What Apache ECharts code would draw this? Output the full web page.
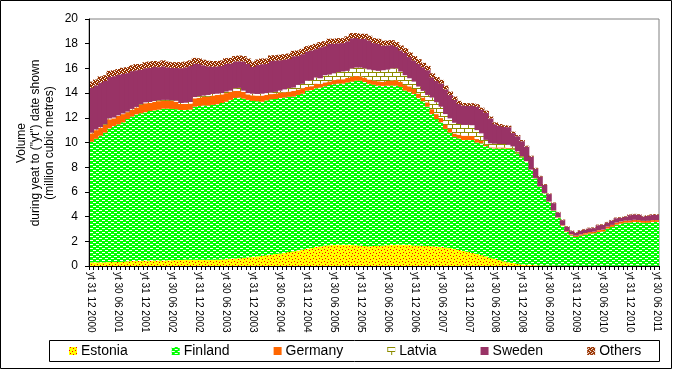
<!DOCTYPE html>
<html>
<head>
<meta charset="utf-8">
<script src="https://cdn.jsdelivr.net/npm/echarts@6/dist/echarts.min.js"></script>
<style>
html,body{margin:0;padding:0;background:#fff;}
#c{width:673px;height:371px;}
</style>
</head>
<body>
<div id="c"></div>
<script>
// ---- data (million cubic metres, year-to-date volumes, monthly Dec 2000 .. Jun 2011) ----
const seriesNames = ['Estonia','Finland','Germany','Latvia','Sweden','Others'];
const yTicks = [0,2,4,6,8,10,12,14,16,18,20];

const estonia = [
 .30,.30,.30,.30,.32,.33,.33,.35,.38,.40,.42,.43,.44,.44,.45,.45,.45,.46,.47,.48,.49,.50,.50,
 .50,.50,.50,.50,.50,.51,.53,
 .55,.58,.60,.63,.66,.70,.73,.78,.82,.88,.92,.98,1.02,1.08,1.14,1.20,1.25,1.33,1.38,1.45,1.54,
 1.60,1.65,1.68,1.70,1.72,1.73,1.72,1.70,1.68,1.65,1.62,1.60,1.62,1.64,1.66,1.68,1.70,1.72,1.73,1.72,1.70,1.67,1.65,1.63,1.62,
 1.60,1.58,1.55,1.50,1.45,1.38,1.30,1.22,1.15,1.05,.98,.88,.78,.66,.58,.48,.38,.30,.25,.18,.12,.10,.08,.07,.05,.05,
 .04,.04,.03,.03,.02,.02,.02,.02,.02,.02,.02,.02,.02,.02,.02,.02,.02,.02,.02,.02,.02,.02,.02,.02,.02
];
const finland = [
 9.76,10.00,10.25,10.50,10.83,11.00,11.14,11.28,11.52,11.70,11.86,11.93,12.01,12.11,12.15,12.21,12.29,12.28,12.25,12.22,12.14,12.13,12.16,
 12.40,12.45,12.50,
 12.49,12.55,12.59,12.67,
 12.75,12.87,13.00,13.01,12.89,12.75,12.64,12.57,12.48,12.52,12.58,12.54,12.58,12.56,12.56,12.52,12.60,12.63,12.82,12.80,12.85,
 12.85,12.90,12.97,13.02,13.05,13.04,13.13,13.23,13.32,13.35,13.28,13.15,13.05,12.96,12.92,12.92,12.92,12.88,12.77,12.48,12.40,12.26,11.96,11.71,11.28,
 10.70,10.32,10.08,9.60,9.35,9.07,9.03,8.98,9.05,9.15,9.02,9.05,8.93,8.89,8.94,9.04,9.14,9.20,9.20,8.94,8.68,8.34,7.69,7.02,6.36,5.82,
 5.15,4.42,3.87,3.22,2.74,2.47,2.33,2.43,2.52,2.60,2.63,2.74,2.78,3.01,3.15,3.33,3.42,3.50,
 3.50,3.55,3.53,3.48,3.48,3.55,3.55
];
const germany = [
 .68,.70,.65,.62,.73,.63,.68,.67,.55,.56,.55,.68,.73,.65,.70,.69,.63,.63,.64,.60,.49,.49,.49,
 .68,.67,.70,
 .71,.75,.75,.70,.70,.67,.58,.54,.55,.45,.45,.45,.50,.45,.42,.44,.45,.43,.42,.46,.44,.43,.30,.31,.38,
 .30,.32,.30,.33,.35,.35,.38,.40,.38,.36,.35,.35,.33,.36,.34,.38,.40,.45,.42,.45,.45,.40,.35,.30,.35,
 .40,.40,.35,.32,.30,.28,.30,.35,.35,.33,.28,.20,.10,.06,.08,.08,.08,.06,.05,.05,.04,.02,.02,.02,.02,.02,
 .03,.03,.04,.05,.06,.08,.10,.10,.12,.12,.12,.14,.14,.15,.15,.16,.16,.15,.15,.16,.16,.15,.15,.14,.14
];
const latvia = [
 .06,.05,.05,.06,.07,.06,.05,.05,.05,.06,.05,.06,.07,.08,.06,.07,.08,.08,.06,.08,.08,.10,.13,
 .10,.13,.10,
 .15,.13,.10,.10,.12,.08,.21,.24,.10,.10,.13,.13,.15,.15,.13,.14,.15,.23,.28,.27,.37,.36,.50,.49,.49,
 .45,.58,.55,.55,.58,.63,.57,.67,.69,.71,.75,.81,.85,.84,.93,.92,.98,.95,.83,.80,.65,.60,.57,.54,.60,
 .94,.96,.92,.88,.85,.87,.87,.87,.87,.87,.72,.61,.40,.32,.30,.28,.28,.25,.18,.12,.06,.04,.02,.02,.02,.02,
 .01,.01,.01,.01,.01,.01,.01,.01,.01,.01,.01,.01,.01,.01,.01,.01,.01,.01,.01,.01,.01,.01,.01,.01,.01
];
const sweden = [
 3.63,3.57,3.60,3.50,3.35,3.35,3.29,3.20,3.12,3.06,2.97,2.79,2.77,2.77,2.77,2.68,2.72,2.64,2.63,2.65,2.82,2.87,2.92,
 2.70,2.61,2.45,
 2.32,2.21,2.21,2.20,2.24,2.20,2.17,2.16,2.35,2.36,2.17,2.34,2.39,2.36,2.55,2.54,2.46,2.40,2.37,2.53,2.34,2.40,2.36,2.41,2.30,
 2.51,2.35,2.49,2.40,2.33,2.30,2.39,2.44,2.39,2.32,2.40,2.35,2.20,2.19,1.99,1.96,1.89,1.75,1.71,1.80,1.72,1.70,1.84,1.91,2.00,
 1.63,1.72,1.87,2.00,1.89,1.85,1.62,1.56,1.54,1.58,1.90,1.90,2.19,2.01,1.58,1.47,1.38,1.43,1.08,1.21,1.20,1.16,1.04,.75,.79,.66,
 .59,.59,.38,.40,.34,.24,.22,.29,.28,.30,.29,.39,.37,.33,.35,.35,.29,.30,.44,.43,.43,.35,.39,.42,.42
];
const others = [
 .50,.48,.50,.47,.50,.48,.46,.50,.48,.47,.50,.46,.48,.50,.47,.45,.48,.46,.45,.47,.48,.46,.45,.47,.46,.45,
 .45,.46,.44,.45,.47,.45,.44,.46,.45,.44,.43,.45,.46,.44,.45,.43,.44,.45,.43,.44,.45,.43,.44,.42,.43,
 .42,.40,.41,.40,.42,.40,.41,.42,.40,.41,.40,.39,.40,.41,.40,.39,.40,.38,.40,.39,.38,.37,.38,.36,.35,
 .33,.32,.30,.30,.28,.27,.25,.22,.22,.20,.20,.18,.18,.16,.15,.15,.14,.12,.12,.10,.10,.08,.08,.07,.06,.06,
 .05,.05,.05,.05,.05,.05,.05,.05,.05,.05,.05,.05,.05,.05,.05,.05,.05,.05,.05,.05,.05,.05,.05,.05,.05
];

// month-end category labels, Dec 2000 .. Jun 2011
const categories = [];
(function(){
  const lastDay = [31,28,31,30,31,30,31,31,30,31,30,31];
  let y = 2000, m = 11;
  for (let k = 0; k < estonia.length; k++) {
    let d = lastDay[m];
    if (m === 1 && (y % 4 === 0)) d = 29;
    const mm = String(m + 1).padStart(2, '0');
    categories.push('yt ' + d + ' ' + mm + ' ' + y);
    m++; if (m > 11) { m = 0; y++; }
  }
})();

// ---- patterns ----
function pattern(rows, bg, fg) {
  const h = rows.length, w = rows[0].length;
  const c = document.createElement('canvas');
  c.width = w; c.height = h;
  const ctx = c.getContext('2d');
  ctx.fillStyle = bg; ctx.fillRect(0, 0, w, h);
  ctx.fillStyle = fg;
  for (let y = 0; y < h; y++) for (let x = 0; x < w; x++) if (rows[y][x] === 'x') ctx.fillRect(x, y, 1, 1);
  return { image: c, repeat: 'repeat' };
}
const fills = [
  pattern(['.x....','....x.','......','x.....','...x..','......'], '#FFFF00', '#FF0000'),
  pattern(['xxx...','......','...xxx','......'], '#00FF00', '#FFFFFF'),
  '#FF6600',
  pattern(['xxxxxxxx','x.......','x.......','x.......','xxxxxxxx','....x...','....x...','....x...'], '#FFFFFF', '#8C8C00'),
  '#993366',
  pattern(['xxx.','x.xx','.xxx','xx.x'], '#FFFFFF', '#993300')
];
const values = [estonia, finland, germany, latvia, sweden, others];

// stacked [index, bottom, top] rows for each series
const running = new Array(estonia.length).fill(0);
const stacked = values.map(arr => arr.map((v, i) => {
  const lo = running[i]; running[i] = lo + v; return [i, lo, lo + v];
}));

const chart = echarts.init(document.getElementById('c'), null, {renderer: 'canvas'});
const FONT = '"Liberation Sans", Arial, sans-serif';

function makeRender(k) {
  return function (params, api) {
    const i = api.value(0);
    const pLo = api.coord([i, api.value(1)]);
    const pHi = api.coord([i, api.value(2)]);
    const w = api.size([1, 0])[0];
    return {
      type: 'rect',
      shape: { x: pLo[0] - w / 2 - 0.5, y: pHi[1], width: w + 1, height: pLo[1] - pHi[1] },
      style: { fill: fills[k], stroke: null, lineWidth: 0 }
    };
  };
}

chart.setOption({
  animation: false,
  backgroundColor: '#fff',
  grid: { left: 89, top: 19, width: 570, height: 247, show: true, borderColor: '#808080', borderWidth: 1, containLabel: false },
  legend: {
    left: 69, top: 344, itemWidth: 8, itemHeight: 8, itemGap: 44, padding: 0,
    icon: 'rect',
    textStyle: { fontFamily: FONT, fontSize: 14, color: '#000', padding: [0,0,0,-1] },
    data: seriesNames
  },
  xAxis: {
    type: 'category', data: categories, boundaryGap: true,
    axisLine: { lineStyle: { color: '#000', width: 1 } },
    axisTick: { show: true, interval: 0, length: 4, lineStyle: { color: '#000' } },
    axisLabel: { interval: 5, rotate: -90, margin: 6, fontFamily: FONT, fontSize: 10, color: '#000' },
    splitLine: { show: false },
    z: 5
  },
  yAxis: {
    type: 'value', min: yTicks[0], max: yTicks[yTicks.length - 1], interval: 2,
    axisLine: { show: true, lineStyle: { color: '#000', width: 1 } },
    axisTick: { show: true, inside: false, length: 4, lineStyle: { color: '#000' } },
    axisLabel: { margin: 11, fontFamily: FONT, fontSize: 12, color: '#000' },
    splitLine: { show: false },
    z: 5
  },
  graphic: [
    { type: 'rect', shape: { x: 0.5, y: 0.5, width: 671, height: 368 }, style: { fill: null, stroke: '#000', lineWidth: 1 }, silent: true, z: -1 },
    { type: 'rect', shape: { x: 49.5, y: 340.5, width: 610, height: 21 }, style: { fill: null, stroke: '#000', lineWidth: 1 }, silent: true },
    { type: 'text', x: 36, y: 143, rotation: Math.PI / 2,
      style: { text: 'Volume\nduring yeat to ("yt") date shown\n(million cubic metres)', font: '12px ' + FONT, fill: '#000', align: 'center', verticalAlign: 'middle', lineHeight: 14 } }
  ],
  series: seriesNames.map((n, k) => ({
    name: n, type: 'custom', data: stacked[k],
    encode: { x: 0, y: [1, 2] },
    renderItem: makeRender(k),
    clip: true,
    itemStyle: { color: fills[k] },
    emphasis: { disabled: true }
  }))
});
</script>
</body>
</html>
